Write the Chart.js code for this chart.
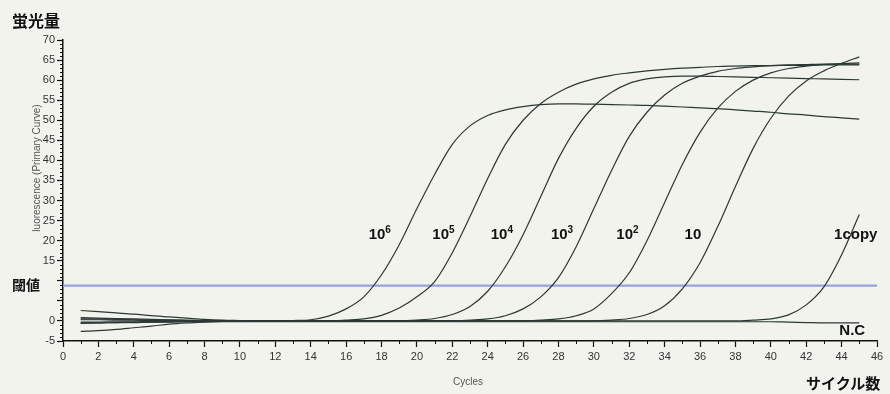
<!DOCTYPE html>
<html>
<head>
<meta charset="utf-8">
<script src="https://cdn.jsdelivr.net/npm/chart.js@4.4.1/dist/chart.umd.min.js"></script>
<style>
  body { margin: 0; background: #f3f3ee; }
  #wrap { position: relative; width: 890px; height: 394px; background: #f3f3ee; }
  canvas { position: absolute; left: 0; top: 0; }
  .jp { position: absolute; font-family: "Noto Sans CJK JP", sans-serif; font-weight: bold; color: #111; white-space: nowrap; line-height: 1; }
  .cl { position: absolute; font-family: "Liberation Sans", Arial, sans-serif; font-weight: bold; font-size: 15px; color: #111; white-space: nowrap; line-height: 1; transform: translate(-50%, -50%); }
  .cl sup { font-size: 10px; vertical-align: 6px; line-height: 0; }
  .small { position: absolute; font-family: "Liberation Sans", Arial, sans-serif; font-size: 10px; color: #555; white-space: nowrap; line-height: 1; }
</style>
</head>
<body>
<div id="wrap">
  <canvas id="grafico" width="890" height="394"></canvas>
  <div class="jp" style="left:12px;top:12px;font-size:16px;">蛍光量</div>
  <div class="jp" style="left:12px;top:277px;font-size:14px;">閾値</div>
  <div class="jp" style="left:806px;top:375px;font-size:15px;">サイクル数</div>
  <div class="small" style="left:453px;top:377px;">Cycles</div>
  <div class="small" style="left:-31px;top:163px;width:136px;text-align:center;transform:rotate(-90deg);">luorescence (Primary Curve)</div>
  <div class="cl" id="lab0">10<sup>6</sup></div>
  <div class="cl" id="lab1">10<sup>5</sup></div>
  <div class="cl" id="lab2">10<sup>4</sup></div>
  <div class="cl" id="lab3">10<sup>3</sup></div>
  <div class="cl" id="lab4">10<sup>2</sup></div>
  <div class="cl" id="lab5">10</div>
  <div class="cl" id="lab6">1copy</div>
  <div class="cl" id="lab7">N.C</div>
</div>
<script>
// ciclos (eixo x)
var ciclos = [1,2,3,4,5,6,7,8,9,10,11,12,13,14,15,16,17,18,19,20,21,22,23,24,25,26,27,28,29,30,31,32,33,34,35,36,37,38,39,40,41,42,43,44,45];

// fluorescencia de cada diluicao
var c1e6 = [2.6,2.3,2.0,1.7,1.3,1.0,0.7,0.4,0.2,0.1,0,0,0.1,0.3,1.2,3,6,11.5,19,28,36.5,44,48.6,51.2,52.6,53.4,53.9,54.1,54.1,54,53.9,53.8,53.7,53.5,53.3,53.1,52.9,52.6,52.3,52,51.6,51.3,50.9,50.6,50.3];
var c1e5 = [0.8,0.7,0.6,0.5,0.4,0.3,0.2,0.1,0,0,0,0,0,0,0,0.2,0.5,1.4,3.2,6,9.8,17,26,35.5,44,50,54.2,57,59,60.3,61.2,61.8,62.3,62.7,63,63.2,63.4,63.5,63.6,63.6,63.7,63.7,63.8,63.8,63.8];
var c1e4 = [-0.6,-0.5,-0.4,-0.3,-0.3,-0.2,-0.1,0,0,0,0,0,0,0,0,0,0,0,0,0.2,0.6,1.6,3.6,7.4,13.5,21.5,31,40.5,48,53.5,57,59.2,60.3,60.8,61,61,60.9,60.8,60.7,60.6,60.5,60.4,60.3,60.2,60.1];
var c1e3 = [0.3,0.3,0.2,0.2,0.1,0.1,0,0,0,0,0,0,0,0,0,0,0,0,0,0,0,0,0.2,0.5,1.3,3,6,10.8,18.5,28,37.5,46,52,56.3,59.2,61,62.2,62.9,63.3,63.6,63.8,63.9,64,64,64];
var c1e2 = [-0.3,-0.3,-0.2,-0.2,-0.1,-0.1,0,0,0,0,0,0,0,0,0,0,0,0,0,0,0,0,0,0,0,0,0.2,0.5,1.3,3,6.8,12,20,29.5,39,47,53,57.2,60,61.8,62.9,63.5,63.9,64.1,64.3];
var c10 = [-2.6,-2.4,-2.1,-1.7,-1.3,-0.8,-0.5,-0.3,-0.1,0,0,0,0,0,0,0,0,0,0,0,0,0,0,0,0,0,0,0,0,0,0.2,0.6,1.6,3.8,8,14.5,23.5,33.5,43,50.5,56,59.8,62.3,64.2,65.8];
var c1copy = [0.5,0.5,0.4,0.3,0.2,0.2,0.1,0,0,0,0,0,0,0,0,0,0,0,0,0,0,0,0,0,0,0,0,0,0,0,0,0,0,0,0,0,0,0,0.2,0.5,1.5,4,8.5,16.5,26.5];
var cNC = [-0.5,-0.5,-0.4,-0.4,-0.3,-0.3,-0.2,-0.2,-0.2,-0.2,-0.2,-0.2,-0.2,-0.2,-0.2,-0.2,-0.2,-0.2,-0.2,-0.2,-0.2,-0.2,-0.2,-0.2,-0.2,-0.2,-0.2,-0.2,-0.2,-0.2,-0.2,-0.2,-0.2,-0.2,-0.2,-0.2,-0.2,-0.2,-0.2,-0.2,-0.3,-0.4,-0.5,-0.5,-0.5];

// limiar (threshold)
var limiar = 8.8;

// ticks
var xTicks = [0,2,4,6,8,10,12,14,16,18,20,22,24,26,28,30,32,34,36,38,40,42,44,46];
var yTicks = [-5,0,5,10,15,20,25,30,35,40,45,50,55,60,65,70];
var yEscondidos = [5,10];

// posicao dos rotulos das curvas (ciclo, valor)
var rotulos = [
  [17.9, 22], [21.5, 22], [24.8, 22], [28.2, 22], [31.9, 22], [35.6, 22], [44.8, 22], [44.6, -1.9]
];

var series = [c1e6, c1e5, c1e4, c1e3, c1e2, c10, c1copy, cNC];
var corLinha = '#2c3833';

var datasets = series.map(function (s) {
  return {
    data: ciclos.map(function (c, i) { return { x: c, y: s[i] }; }),
    borderColor: corLinha,
    borderWidth: 1.2,
    pointRadius: 0,
    cubicInterpolationMode: 'monotone',
    fill: false
  };
});
datasets.push({
  data: [{ x: xTicks[0], y: limiar }, { x: xTicks[xTicks.length - 1], y: limiar }],
  borderColor: '#97a2db',
  borderWidth: 2.2,
  pointRadius: 0,
  fill: false
});

// ticks menores
var ticksMenores = {
  id: 'ticksMenores',
  afterDraw: function (chart) {
    var ctx = chart.ctx, x = chart.scales.x, y = chart.scales.y;
    ctx.save();
    ctx.strokeStyle = '#111';
    ctx.lineWidth = 1;
    ctx.beginPath();
    for (var v = x.min; v <= x.max; v++) {
      if (v % 2 !== 0) {
        var px = Math.round(x.getPixelForValue(v)) + 0.5;
        ctx.moveTo(px, x.top);
        ctx.lineTo(px, x.top + 3);
      }
    }
    for (var w = y.min; w <= y.max; w++) {
      if (w % 5 !== 0) {
        var py = Math.round(y.getPixelForValue(w)) + 0.5;
        ctx.moveTo(y.right - 3, py);
        ctx.lineTo(y.right, py);
      }
    }
    ctx.stroke();
    ctx.restore();
  },
  afterRender: function (chart) {
    var x = chart.scales.x, y = chart.scales.y;
    rotulos.forEach(function (r, i) {
      var el = document.getElementById('lab' + i);
      el.style.left = x.getPixelForValue(r[0]) + 'px';
      el.style.top = y.getPixelForValue(r[1]) + 'px';
    });
  }
};

var config = {
  type: 'line',
  data: { datasets: datasets },
  options: {
    responsive: false,
    animation: false,
    events: [],
    layout: { padding: { top: 40, right: 13, left: 0, bottom: 0 } },
    plugins: { legend: { display: false }, tooltip: { enabled: false } },
    scales: {
      x: {
        type: 'linear',
        min: 0,
        max: 46,
        afterFit: function (s) { s.height = 53; },
        afterBuildTicks: function (s) { s.ticks = xTicks.map(function (v) { return { value: v }; }); },
        grid: { drawOnChartArea: false, tickLength: 6, color: '#111', tickWidth: 1.2 },
        border: { color: '#111', width: 1.5 },
        ticks: { color: '#333', font: { family: 'Liberation Sans', size: 11 }, padding: 3, maxRotation: 0, autoSkip: false }
      },
      y: {
        min: -5,
        max: 70,
        afterFit: function (s) { s.width = 63; },
        afterBuildTicks: function (s) { s.ticks = yTicks.map(function (v) { return { value: v }; }); },
        grid: { drawOnChartArea: false, tickLength: 6, color: '#111', tickWidth: 1.2 },
        border: { color: '#111', width: 1.5 },
        ticks: {
          color: '#333',
          font: { family: 'Liberation Sans', size: 11 },
          padding: 2,
          autoSkip: false,
          callback: function (v) { return yEscondidos.indexOf(v) >= 0 ? '' : v; }
        }
      }
    }
  },
  plugins: [ticksMenores]
};

var grafico = new Chart(document.getElementById('grafico'), config);
</script>
</body>
</html>
